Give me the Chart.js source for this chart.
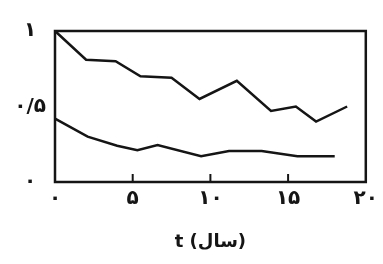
<!DOCTYPE html>
<html>
<head>
<meta charset="utf-8">
<script src="https://cdn.jsdelivr.net/npm/chart.js@4"></script>
<style>
  html, body { margin: 0; padding: 0; background: #fff; }
  #wrap { width: 383px; height: 264px; }
</style>
</head>
<body>
<div id="wrap"><canvas id="chart"></canvas></div>
<script>
// values
const upperYears = [0, 2, 3.9, 5.5, 7.5, 9.3, 11.7, 13.9, 15.5, 16.8, 18.8]
const upperValues = [1.0, 0.81, 0.80, 0.70, 0.69, 0.55, 0.67, 0.47, 0.50, 0.40, 0.50]
const lowerYears = [0, 2.1, 4, 5.3, 6.6, 9.4, 11.2, 13.3, 15.6, 18]
const lowerValues = [0.42, 0.30, 0.24, 0.21, 0.245, 0.17, 0.205, 0.205, 0.17, 0.17]
const xTicks = [0, 5, 10, 15, 20]
const yTicks = [0, 0.5, 1]
const xTitle = 't (سال)'

const faDigits = '۰۱۲۳۴۵۶۷۸۹'
function toFa(v) {
    return String(v).replace(/\d/g, d => faDigits[d]).replace('.', '/')
}

function points(xs, ys) {
    return xs.map((x, i) => ({ x: x, y: ys[i] }))
}

const ink = '#151515'

// frame round the plot and short ticks pointing up from the bottom axis
const framePlugin = {
    id: 'frame',
    afterDraw(chart) {
        const ctx = chart.ctx
        const a = chart.chartArea
        const xs = chart.scales.x
        ctx.save()
        ctx.strokeStyle = ink
        ctx.lineWidth = 2.5
        ctx.strokeRect(a.left, a.top, a.right - a.left, a.bottom - a.top)
        ctx.lineWidth = 2
        xTicks.slice(1, -1).forEach(t => {
            const px = xs.getPixelForValue(t)
            ctx.beginPath()
            ctx.moveTo(px, a.bottom)
            ctx.lineTo(px, a.bottom - 8)
            ctx.stroke()
        })
        ctx.restore()
    }
}

const font = { family: 'DejaVu Sans', size: 20, weight: 'bold' }

new Chart(document.querySelector('#chart'), {
    type: 'line',
    data: {
        datasets: [{
            data: points(upperYears, upperValues),
            borderColor: ink,
            borderWidth: 2.5,
            pointRadius: 0,
            tension: 0,
            clip: false
        }, {
            data: points(lowerYears, lowerValues),
            borderColor: ink,
            borderWidth: 2.5,
            pointRadius: 0,
            tension: 0,
            clip: false
        }]
    },
    options: {
        responsive: true,
        maintainAspectRatio: false,
        animation: false,
        layout: { padding: { top: 31, right: 16, left: 0, bottom: 0 } },
        plugins: {
            legend: { display: false },
            tooltip: { enabled: false }
        },
        scales: {
            x: {
                type: 'linear',
                min: 0,
                max: 20,
                afterBuildTicks: scale => { scale.ticks = xTicks.map(v => ({ value: v })) },
                afterFit: scale => { scale.height = 82 },
                grid: { display: false, drawTicks: false },
                border: { display: false },
                ticks: {
                    color: ink,
                    font: font,
                    padding: 5,
                    maxRotation: 0,
                    autoSkip: false,
                    callback: v => toFa(v)
                },
                title: {
                    display: true,
                    text: xTitle,
                    color: ink,
                    font: { family: 'DejaVu Sans', size: 18, weight: 'bold' },
                    padding: { top: 0, bottom: 11 }
                }
            },
            y: {
                min: 0,
                max: 1,
                afterBuildTicks: scale => { scale.ticks = yTicks.map(v => ({ value: v })) },
                afterFit: scale => { scale.width = 55 },
                grid: { display: false, drawTicks: false },
                border: { display: false },
                ticks: {
                    color: ink,
                    font: font,
                    padding: 9,
                    crossAlign: 'center',
                    callback: v => toFa(v)
                }
            }
        }
    },
    plugins: [framePlugin]
})
</script>
</body>
</html>
